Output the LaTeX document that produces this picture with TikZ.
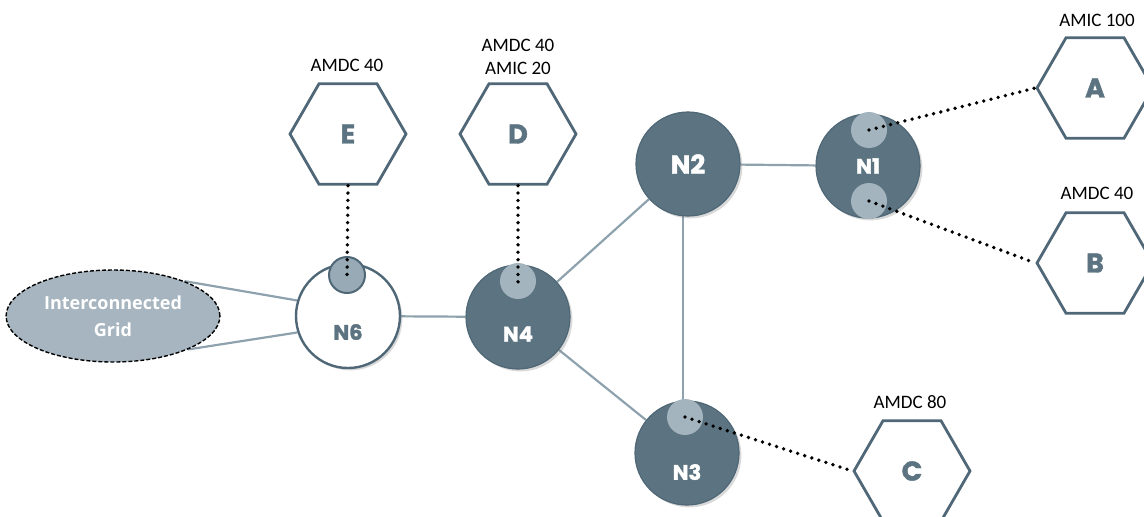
\documentclass[tikz,border=0pt]{standalone}
\usepackage{fontspec}
\setmainfont{Carlito}
\newfontfamily\heavyfont[BoldFeatures={FakeBold=1.6}]{Poppins}
\newfontfamily\gridfont{Open Sans}
\usepackage{xcolor}
\usetikzlibrary{shapes.geometric}
\usetikzlibrary{shadows}
\usetikzlibrary{backgrounds}
\definecolor{slate}{HTML}{5C7381}
\definecolor{slateline}{HTML}{4F6776}
\definecolor{paleslate}{HTML}{A3B4BE}
\definecolor{linkgray}{HTML}{8EA2AE}
\definecolor{gridfill}{HTML}{A6B5BF}
\tikzset{bus/.style={circle,minimum size=52pt,inner sep=0pt,fill=slate,draw=slateline,
   line width=0.6pt,drop shadow={opacity=0.3,shadow xshift=1.2pt,shadow yshift=-1.2pt}},
 port/.style={circle,minimum size=18pt,inner sep=0pt,fill=paleslate},
 buslabel/.style={text=white,font=\heavyfont\bfseries\fontsize{10.5}{12}\selectfont},
 feeder/.style={regular polygon,regular polygon sides=6,minimum size=58pt,inner sep=0pt,
   draw=slateline,line width=1.4pt,text=slate,font=\heavyfont\bfseries\fontsize{13.5}{15}\selectfont},
 tag/.style={font=\fontsize{9.5}{11.5}\selectfont,text=black},
 link/.style={draw=linkgray,line width=1.1pt},
 meter/.style={line width=1.9pt,dash pattern=on 0pt off 3.7pt,line cap=round},
 }

\begin{document}
\begin{tikzpicture}[x=0.5pt,y=-0.5pt]
        \useasboundingbox (0,0) rectangle (1144,516);
        % feeders
        \node[feeder] (E) at (348,134) {E};
        \node[feeder] (D) at (518,134) {D};
        \node[feeder] (A) at (1095,88) {A};
        \node[feeder] (B) at (1095,263) {B};
        \node[feeder] (C) at (912,471) {C};
        \node[tag] (Etag) at (347,65) {AMDC 40};
        \node[tag,align=center] (Dtag) at (518,57) {AMDC 40\\AMIC 20};
        \node[tag] (Atag) at (1097,20) {AMIC 100};
        \node[tag] (Btag) at (1097,193) {AMDC 40};
        \node[tag] (Ctag) at (910,402) {AMDC 80};
        % grid
        \node[ellipse,minimum width=102pt,minimum height=46pt,fill=gridfill,draw=black,
            line width=0.7pt,dash pattern=on 2pt off 1pt,text=white,align=center,
            font=\gridfont\bfseries\fontsize{9}{13.5}\selectfont] (grid) at (113,316)
            {Interconnected\\Grid};
        % buses
        \node[bus,fill=white,line width=1.2pt] (n6) at (348,316) {};
        \node[bus] (n4) at (518,317) {};
        \node[bus] (n2) at (688,164) {};
        \node[bus] (n1) at (868,166) {};
        \node[bus] (n3) at (687,453) {};
        \node[port,fill=paleslate!85!slate,draw=slateline,line width=1pt] (n6p) at (347,275) {};
        \node[port] (n4p) at (518,281) {};
        \node[port] (n1t) at (869,130) {};
        \node[port] (n1b) at (869,201) {};
        \node[port] (n3p) at (685,417) {};
        \node[buslabel,text=slate] (n6lab) at (348,332) {N6};
        \node[buslabel] (n4lab) at (518,334) {N4};
        \node[buslabel,font=\heavyfont\bfseries\fontsize{13}{15}\selectfont] (n2lab) at (688,164) {N2};
        \node[buslabel] (n1lab) at (868,166) {N1};
        \node[buslabel] (n3lab) at (687,472) {N3};
        % lines
        \begin{scope}[on background layer]
        \draw[link] (grid.26) -- (n6.163);
        \draw[link] (grid.-24) -- (n6.198);
        \draw[link] (n6) -- (n4);
        \draw[link] (n4) -- (n2);
        \draw[link] (n4) -- (n3);
        \draw[link] (n2) -- (n1);
        \draw[link] ([xshift=-2.5pt]n2.center) -- ([xshift=-2pt]n3.center);
        \end{scope}
        % meters
        \draw[meter] (E.south) -- ([yshift=-3pt]n6p.center);
        \draw[meter] (D.south) -- ([yshift=-2pt]n4p.center);
        \draw[meter] (n1t.center) -- (A.west);
        \draw[meter] (n1b.center) -- (B.west);
        \draw[meter] (n3p.center) -- (C.west);
    \end{tikzpicture}
\end{document}
